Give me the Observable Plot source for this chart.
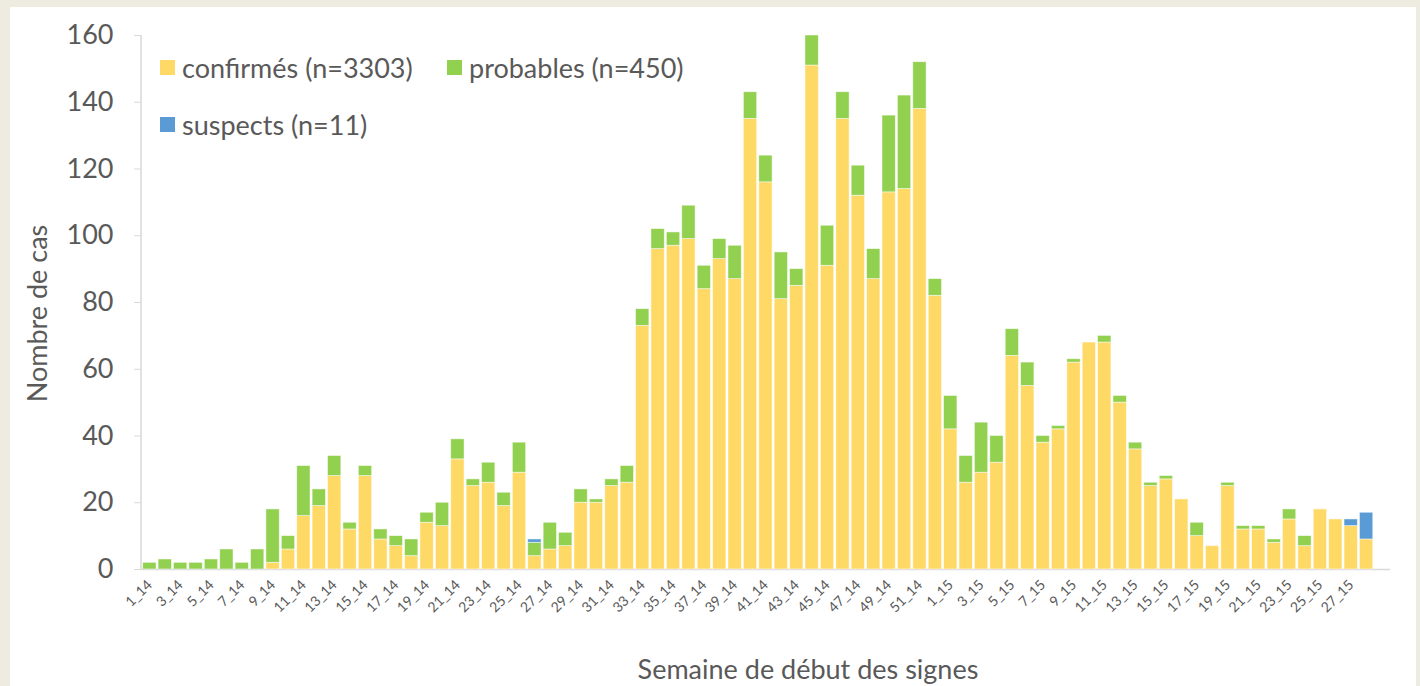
<!DOCTYPE html>
<html>
<head>
<meta charset="utf-8">
<script src="https://cdn.jsdelivr.net/npm/d3@7"></script>
<script src="https://cdn.jsdelivr.net/npm/@observablehq/plot@0.6"></script>
<style>
  html, body { margin: 0; padding: 0; width: 1420px; height: 686px; overflow: hidden; background: #EEEBE1; font-family: Lato, "Open Sans", sans-serif; }
  #panel { position: absolute; left: 10px; top: 7px; width: 1406px; height: 679px; background: #ffffff; }
  #chart { position: absolute; left: 0; top: 0; }
  #chart svg [aria-label="y-axis tick"] { stroke: #D9D9D9; }
  #chart svg [aria-label="y-axis tick label"], #chart svg [aria-label="x-axis tick label"] { fill: #595959; }
  .legend-item { position: absolute; display: flex; align-items: center; font-size: 27px; color: #595959; white-space: nowrap; line-height: 1; }
  .sw { width: 15px; height: 15px; margin-right: 7px; flex: none; }
  .title { position: absolute; font-size: 27px; color: #595959; white-space: nowrap; line-height: 1; }
</style>
</head>
<body>
<div id="panel">
  <div id="chart"></div>
  <div id="legend"></div>
  <div class="title" id="ytitle"></div>
  <div class="title" id="xtitle"></div>
</div>
<script>
// ---- Data ----
const weeks = [
  "1_14","2_14","3_14","4_14","5_14","6_14","7_14","8_14","9_14","10_14",
  "11_14","12_14","13_14","14_14","15_14","16_14","17_14","18_14","19_14","20_14",
  "21_14","22_14","23_14","24_14","25_14","26_14","27_14","28_14","29_14","30_14",
  "31_14","32_14","33_14","34_14","35_14","36_14","37_14","38_14","39_14","40_14",
  "41_14","42_14","43_14","44_14","45_14","46_14","47_14","48_14","49_14","50_14",
  "51_14","52_14",
  "1_15","2_15","3_15","4_15","5_15","6_15","7_15","8_15","9_15","10_15",
  "11_15","12_15","13_15","14_15","15_15","16_15","17_15","18_15","19_15","20_15",
  "21_15","22_15","23_15","24_15","25_15","26_15","27_15","28_15"
];
const xTickLabels = [
  "1_14","3_14","5_14","7_14","9_14","11_14","13_14","15_14","17_14","19_14",
  "21_14","23_14","25_14","27_14","29_14","31_14","33_14","35_14","37_14","39_14",
  "41_14","43_14","45_14","47_14","49_14","51_14",
  "1_15","3_15","5_15","7_15","9_15","11_15","13_15","15_15","17_15","19_15",
  "21_15","23_15","25_15","27_15"
];
const confirmes = [
  0,0,0,0,0,0,0,0,2,6,
  16,19,28,12,28,9,7,4,14,13,
  33,25,26,19,29,4,6,7,20,20,
  25,26,73,96,97,99,84,93,87,135,
  116,81,85,151,91,135,112,87,113,114,
  138,82,
  42,26,29,32,64,55,38,42,62,68,
  68,50,36,25,27,21,10,7,25,12,
  12,8,15,7,18,15,13,9
];
const probables = [
  2,3,2,2,3,6,2,6,16,4,
  15,5,6,2,3,3,3,5,3,7,
  6,2,6,4,9,4,8,4,4,1,
  2,5,5,6,4,10,7,6,10,8,
  8,14,5,9,12,8,9,9,23,28,
  14,5,
  10,8,15,8,8,7,2,1,1,0,
  2,2,2,1,1,0,4,0,1,1,
  1,1,3,3,0,0,0,0
];
const suspects = [
  0,0,0,0,0,0,0,0,0,0,
  0,0,0,0,0,0,0,0,0,0,
  0,0,0,0,0,1,0,0,0,0,
  0,0,0,0,0,0,0,0,0,0,
  0,0,0,0,0,0,0,0,0,0,
  0,0,
  0,0,0,0,0,0,0,0,0,0,
  0,0,0,0,0,0,0,0,0,0,
  0,0,0,0,0,0,2,8
];
const statuts = ["confirmés (n=3303)", "probables (n=450)", "suspects (n=11)"];
const couleurs = ["#FFD966", "#92D050", "#5B9BD5"];
const yTicks = [0, 20, 40, 60, 80, 100, 120, 140, 160];
const yTitle = "Nombre de cas";
const xTitle = "Semaine de début des signes";

// ---- Table ----
const series = [confirmes, probables, suspects];
const rows = [];
weeks.forEach((w, i) => {
  series.forEach((s, k) => {
    if (s[i] > 0) rows.push({ week: w, statut: statuts[k], n: s[i] });
  });
});

const W = 1406, H = 679;
const mL = 131, mR = 26, mT = 28, mB = 117;

const chart = Plot.plot({
  width: W,
  height: H,
  marginLeft: mL,
  marginRight: mR,
  marginTop: mT,
  marginBottom: mB,
  style: { fontFamily: "Lato, 'Open Sans', sans-serif", background: "transparent", overflow: "visible" },
  x: { type: "band", domain: weeks, paddingInner: 0.135, paddingOuter: 0.615, align: 0.09, label: null },
  y: { domain: [0, 160], label: null },
  color: { domain: statuts, range: couleurs },
  marks: [
    Plot.ruleY([0], { stroke: "#D9D9D9", strokeWidth: 1.5 }),
    Plot.barY(rows, {
      x: "week", y: "n", fill: "statut", order: statuts,
      stroke: "#ffffff", strokeWidth: 0.8, strokeOpacity: 0.6
    }),
    Plot.axisY({ ticks: yTicks, tickSize: 7, tickPadding: 21, fontSize: 27, label: null }),
    Plot.axisX({ ticks: xTickLabels, tickSize: 0, tickPadding: 13, tickRotate: -45, fontSize: 14, label: null })
  ]
});
document.getElementById("chart").appendChild(chart);

// y-axis line
const ys = chart.scale("y");
d3.select(chart).append("line")
  .attr("x1", mL).attr("x2", mL)
  .attr("y1", ys.apply(0)).attr("y2", ys.apply(160))
  .attr("stroke", "#D9D9D9").attr("stroke-width", 1.5);

// ---- Legend (HTML) ----
const legendPos = [[150, 60], [437, 60], [150, 117]];
const legend = document.getElementById("legend");
statuts.forEach((s, k) => {
  const d = document.createElement("div");
  d.className = "legend-item";
  d.style.left = legendPos[k][0] + "px";
  d.style.top = (legendPos[k][1] - 14) + "px";
  d.style.height = "28px";
  d.innerHTML = `<span class="sw" style="background:${couleurs[k]}"></span><span>${s}</span>`;
  legend.appendChild(d);
});

// ---- Titles ----
const yt = document.getElementById("ytitle");
yt.textContent = yTitle;
const xt = document.getElementById("xtitle");
xt.textContent = xTitle;
const ytw = yt.getBoundingClientRect().width, yth = yt.getBoundingClientRect().height;
yt.style.left = (27 - ytw / 2) + "px";
yt.style.top = (306 - yth / 2) + "px";
yt.style.transform = "rotate(-90deg)";
const xtw = xt.getBoundingClientRect().width, xth = xt.getBoundingClientRect().height;
xt.style.left = (798 - xtw / 2) + "px";
xt.style.top = (661 - xth / 2) + "px";
</script>
</body>
</html>
